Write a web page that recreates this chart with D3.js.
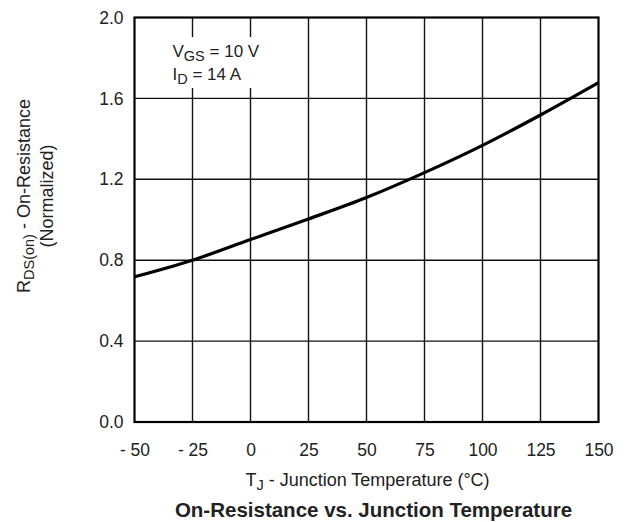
<!DOCTYPE html>
<html>
<head>
<meta charset="utf-8">
<script src="https://cdn.jsdelivr.net/npm/d3@7"></script>
<style>
  body { margin: 0; background: #fff; }
  text { font-family: "Liberation Sans", Arial, Helvetica, sans-serif; fill: #222; }
</style>
</head>
<body>
<div id="chart"></div>
<script>
const temps = [-50, -25, 0, 25, 50, 75, 100, 125, 150];
const rdsOn = [0.718, 0.80, 0.902, 1.004, 1.11, 1.233, 1.368, 1.518, 1.678];
const xTicks = [-50, -25, 0, 25, 50, 75, 100, 125, 150];
const yTicks = [0, 0.4, 0.8, 1.2, 1.6, 2.0];

const W = 627, H = 522;
const margin = { top: 17.5, left: 134.5, right: 28.5, bottom: 100 };
const width = W - margin.left - margin.right;
const height = H - margin.top - margin.bottom;

const svg = d3.select('#chart')
  .append('svg')
  .attr('width', W)
  .attr('height', H);

const g = svg.append('g')
  .attr('transform', `translate(${margin.left},${margin.top})`);

const x = d3.scaleLinear().domain([-50, 150]).range([0, width]);
const y = d3.scaleLinear().domain([0, 2]).range([height, 0]);

// grid
g.selectAll('.vgrid')
  .data(xTicks.slice(1, -1))
  .enter()
  .append('line')
  .attr('x1', d => x(d)).attr('x2', d => x(d))
  .attr('y1', 0).attr('y2', height)
  .attr('stroke', '#111').attr('stroke-width', 1.4);

g.selectAll('.hgrid')
  .data(yTicks.slice(1, -1))
  .enter()
  .append('line')
  .attr('x1', 0).attr('x2', width)
  .attr('y1', d => y(d)).attr('y2', d => y(d))
  .attr('stroke', '#111').attr('stroke-width', 1.4);

// annotation box (hides grid behind text)
g.append('rect')
  .attr('x', 30).attr('y', 19.5)
  .attr('width', 110).attr('height', 51)
  .attr('fill', '#fff');

const note = g.append('g').attr('font-size', 17);
const l1 = note.append('text').attr('x', 38).attr('y', 39.5);
l1.append('tspan').text('V');
l1.append('tspan').attr('dy', 4).attr('font-size', 14.5).text('GS');
l1.append('tspan').attr('dy', -4).text(' = 10 V');
const l2 = note.append('text').attr('x', 38).attr('y', 62.5);
l2.append('tspan').text('I');
l2.append('tspan').attr('dy', 4).attr('font-size', 14.5).text('D');
l2.append('tspan').attr('dy', -4).text(' = 14 A');

// frame
g.append('rect')
  .attr('width', width).attr('height', height)
  .attr('fill', 'none')
  .attr('stroke', '#000').attr('stroke-width', 2.2);

// curve
const line = d3.line()
  .x((d, i) => x(temps[i]))
  .y(d => y(d))
  .curve(d3.curveMonotoneX);

g.append('path')
  .datum(rdsOn)
  .attr('d', line)
  .attr('fill', 'none')
  .attr('stroke', '#000')
  .attr('stroke-width', 3.2);

// axes
const xAxis = g.append('g')
  .attr('transform', `translate(0,${height})`)
  .call(d3.axisBottom(x).tickValues(xTicks).tickSize(0).tickPadding(22)
    .tickFormat(d => d < 0 ? '- ' + Math.abs(d) : d));
xAxis.select('.domain').remove();
xAxis.selectAll('text').attr('font-size', 17.5).attr('fill', '#222');

const yAxis = g.append('g')
  .call(d3.axisLeft(y).tickValues(yTicks).tickSize(0).tickPadding(11)
    .tickFormat(d3.format('.1f')));
yAxis.select('.domain').remove();
yAxis.selectAll('text').attr('font-size', 17.5).attr('fill', '#222');

// x title
const xt = svg.append('text')
  .attr('x', margin.left + width / 2 + 1)
  .attr('y', 486)
  .attr('text-anchor', 'middle')
  .attr('font-size', 18);
xt.append('tspan').text('T');
xt.append('tspan').attr('dy', 4).attr('font-size', 14.5).text('J');
xt.append('tspan').attr('dy', -4).text(' - Junction Temperature (°C)');

// chart title
svg.append('text')
  .attr('x', margin.left + width / 2 + 7)
  .attr('y', 517)
  .attr('text-anchor', 'middle')
  .attr('font-size', 20.5)
  .attr('font-weight', 'bold')
  .attr('fill', '#000')
  .text('On-Resistance vs. Junction Temperature');

// y title
const yt = svg.append('g')
  .attr('transform', 'translate(30,196) rotate(-90)');
const y1 = yt.append('text')
  .attr('text-anchor', 'middle')
  .attr('font-size', 18);
y1.append('tspan').text('R');
y1.append('tspan').attr('dy', 4).attr('font-size', 14.5).text('DS(on)');
y1.append('tspan').attr('dy', -4).text(' - On-Resistance');
yt.append('text')
  .attr('y', 23)
  .attr('text-anchor', 'middle')
  .attr('font-size', 18)
  .text('(Normalized)');
</script>
</body>
</html>
